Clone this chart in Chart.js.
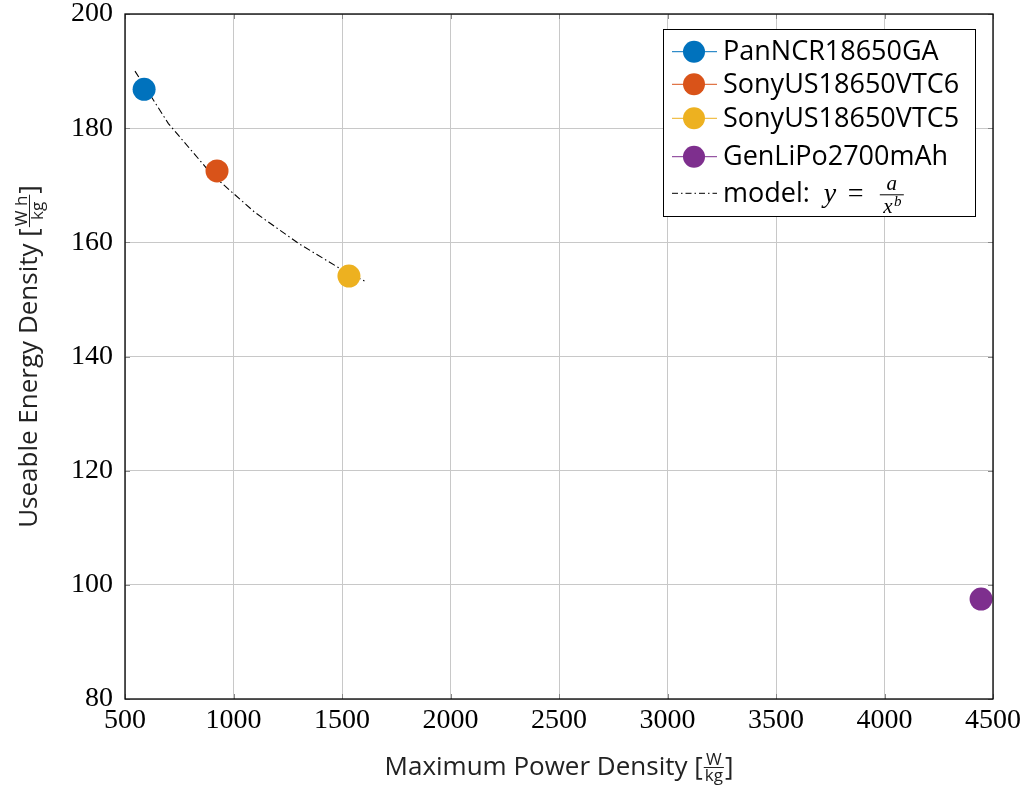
<!DOCTYPE html>
<html>
<head>
<meta charset="utf-8">
<script src="https://cdn.jsdelivr.net/npm/chart.js@4/dist/chart.umd.min.js"></script>
<style>
  html, body { margin: 0; padding: 0; background: #fff; }
  #wrap { width: 1027px; height: 792px; }
</style>
</head>
<body>
<div id="wrap"><canvas id="chart" width="1027" height="792"></canvas></div>
<script>
const cells = ['PanNCR18650GA', 'SonyUS18650VTC6', 'SonyUS18650VTC5', 'GenLiPo2700mAh'];
const powerDensity = [588, 924, 1532, 4445];        // W/kg
const energyDensity = [186.8, 172.5, 154.1, 97.5];  // Wh/kg
const cellColors = ['#0072BD', '#D95319', '#EDB120', '#7E2F8E'];

// fitted model y = a / x^b
const modelX = [546, 700, 900, 1100, 1300, 1500, 1615];
const modelY = [190.0, 180.8, 171.9, 165.2, 159.8, 155.2, 153.0];

const xTitle = 'Maximum Power Density';
const yTitle = 'Useable Energy Density';

const SANS = '"Open Sans", sans-serif';
const SERIF = '"Liberation Serif", serif';
const TEXT = '#222';

// draws "text [num/den]" centred on x, baseline y
function fracLabel(ctx, x, y, text, num, den) {
  const big = '26px ' + SANS, small = '17px ' + SANS;
  ctx.font = big;
  const wText = ctx.measureText(text + ' [').width;
  const wClose = ctx.measureText(']').width;
  ctx.font = small;
  const wFrac = Math.max(ctx.measureText(num).width, ctx.measureText(den).width) + 4;
  let cx = x - (wText + wFrac + wClose) / 2;
  ctx.fillStyle = TEXT;
  ctx.textAlign = 'left';
  ctx.textBaseline = 'alphabetic';
  ctx.font = big;
  ctx.fillText(text + ' [', cx, y);
  cx += wText;
  const bar = y - 8;
  ctx.font = small;
  ctx.textAlign = 'center';
  ctx.fillText(num, cx + wFrac / 2, bar - 2);
  ctx.textBaseline = 'top';
  ctx.fillText(den, cx + wFrac / 2, bar + 1);
  ctx.strokeStyle = TEXT;
  ctx.lineWidth = 1;
  ctx.beginPath();
  ctx.moveTo(cx + 1, bar + 0.5);
  ctx.lineTo(cx + wFrac - 1, bar + 0.5);
  ctx.stroke();
  ctx.font = big;
  ctx.textAlign = 'left';
  ctx.textBaseline = 'alphabetic';
  ctx.fillText(']', cx + wFrac, y);
}

const framePlugin = {
  id: 'frame',
  afterDraw(chart) {
    const ctx = chart.ctx;
    const a = chart.chartArea;
    const xs = chart.scales.x, ys = chart.scales.y;
    ctx.save();

    // little inward tick marks
    ctx.strokeStyle = '#888';
    ctx.lineWidth = 1;
    ctx.beginPath();
    xs.ticks.forEach(t => {
      const px = Math.round(xs.getPixelForValue(t.value)) + 0.5;
      ctx.moveTo(px, a.bottom); ctx.lineTo(px, a.bottom - 5);
      ctx.moveTo(px, a.top); ctx.lineTo(px, a.top + 5);
    });
    ys.ticks.forEach(t => {
      const py = Math.round(ys.getPixelForValue(t.value)) + 0.5;
      ctx.moveTo(a.left, py); ctx.lineTo(a.left + 5, py);
      ctx.moveTo(a.right, py); ctx.lineTo(a.right - 5, py);
    });
    ctx.stroke();

    // axis box
    ctx.strokeStyle = '#000';
    ctx.lineWidth = 1.3;
    ctx.strokeRect(a.left, a.top, a.right - a.left, a.bottom - a.top);

    // axis titles
    fracLabel(ctx, (a.left + a.right) / 2, 775, xTitle, 'W', 'kg');
    ctx.save();
    ctx.translate(37, (a.top + a.bottom) / 2);
    ctx.rotate(-Math.PI / 2);
    fracLabel(ctx, 0, 0, yTitle, 'W h', 'kg');
    ctx.restore();

    // legend
    const lx = a.right - 330, ly = a.top + 15, lw = 312, lh = 187;
    ctx.fillStyle = '#fff';
    ctx.fillRect(lx, ly, lw, lh);
    ctx.strokeStyle = '#000';
    ctx.lineWidth = 1;
    ctx.strokeRect(lx + 0.5, ly + 0.5, lw, lh);
    const rows = [22.7, 55.3, 89.3, 127.7, 164.3];
    cells.forEach((name, i) => {
      const y = ly + rows[i];
      ctx.strokeStyle = cellColors[i];
      ctx.lineWidth = 1;
      ctx.beginPath();
      ctx.moveTo(lx + 9, y); ctx.lineTo(lx + 54, y);
      ctx.stroke();
      ctx.fillStyle = cellColors[i];
      ctx.beginPath();
      ctx.arc(lx + 31, y, 11, 0, Math.PI * 2);
      ctx.fill();
      ctx.fillStyle = '#000';
      ctx.font = '27px ' + SANS;
      ctx.textAlign = 'left';
      ctx.textBaseline = 'middle';
      ctx.fillText(name, lx + 60, y + 1);
    });
    // model entry
    const my = ly + rows[4];
    ctx.strokeStyle = '#000';
    ctx.lineWidth = 1;
    ctx.setLineDash([6, 3, 1.5, 3]);
    ctx.beginPath();
    ctx.moveTo(lx + 9, my); ctx.lineTo(lx + 54, my);
    ctx.stroke();
    ctx.setLineDash([]);
    ctx.fillStyle = '#000';
    ctx.textAlign = 'left';
    ctx.textBaseline = 'alphabetic';
    ctx.font = '27px ' + SANS;
    const base = my + 9;
    ctx.fillText('model:', lx + 60, base);
    const yx = lx + 60 + ctx.measureText('model:').width + 14;
    ctx.font = 'italic 28px ' + SERIF;
    ctx.fillText('y', yx, base);
    ctx.font = '28px ' + SERIF;
    ctx.fillText('=', yx + 24, base);
    const fx = yx + 68, bar = my + 1;
    ctx.font = 'italic 21px ' + SERIF;
    ctx.textAlign = 'center';
    ctx.fillText('a', fx, bar - 4);
    ctx.fillText('x', fx - 4, bar + 19);
    ctx.font = 'italic 15px ' + SERIF;
    ctx.fillText('b', fx + 6, bar + 12);
    ctx.beginPath();
    ctx.moveTo(fx - 12, bar + 0.5); ctx.lineTo(fx + 12, bar + 0.5);
    ctx.stroke();
    ctx.restore();
  }
};

const datasets = cells.map((name, i) => ({
  label: name,
  data: [{ x: powerDensity[i], y: energyDensity[i] }],
  backgroundColor: cellColors[i],
  borderWidth: 0,
  pointRadius: 11.5,
  pointHoverRadius: 11.5,
  order: 0
}));
datasets.push({
  label: 'model',
  data: modelX.map((x, i) => ({ x: x, y: modelY[i] })),
  showLine: true,
  borderColor: '#000',
  borderWidth: 1.1,
  borderDash: [7, 3, 1.5, 3],
  pointRadius: 0,
  tension: 0,
  order: 5
});

const tickFont = { family: 'Liberation Serif', size: 28, lineHeight: 1 };

new Chart(document.getElementById('chart'), {
  type: 'scatter',
  data: { datasets: datasets },
  options: {
    responsive: false,
    animation: false,
    devicePixelRatio: 1,
    layout: { padding: { top: 14, right: 34, left: 0, bottom: 0 } },
    plugins: { legend: { display: false }, tooltip: { enabled: false } },
    scales: {
      x: {
        type: 'linear', min: 500, max: 4500,
        ticks: { stepSize: 500, font: tickFont, color: '#000', padding: 8, maxRotation: 0, callback: v => String(v) },
        grid: { color: '#c8c8c8', lineWidth: 1, drawTicks: false },
        border: { display: false },
        afterFit(s) { s.height = 93; s.paddingLeft = 0; s.paddingRight = 0; }
      },
      y: {
        type: 'linear', min: 80, max: 200,
        ticks: { stepSize: 20, font: tickFont, color: '#000', padding: 12, callback: v => String(v) },
        grid: { color: '#c8c8c8', lineWidth: 1, drawTicks: false },
        border: { display: false },
        afterFit(s) { s.width = 125; s.paddingTop = 0; s.paddingBottom = 0; }
      }
    }
  },
  plugins: [framePlugin]
});
</script>
</body>
</html>
